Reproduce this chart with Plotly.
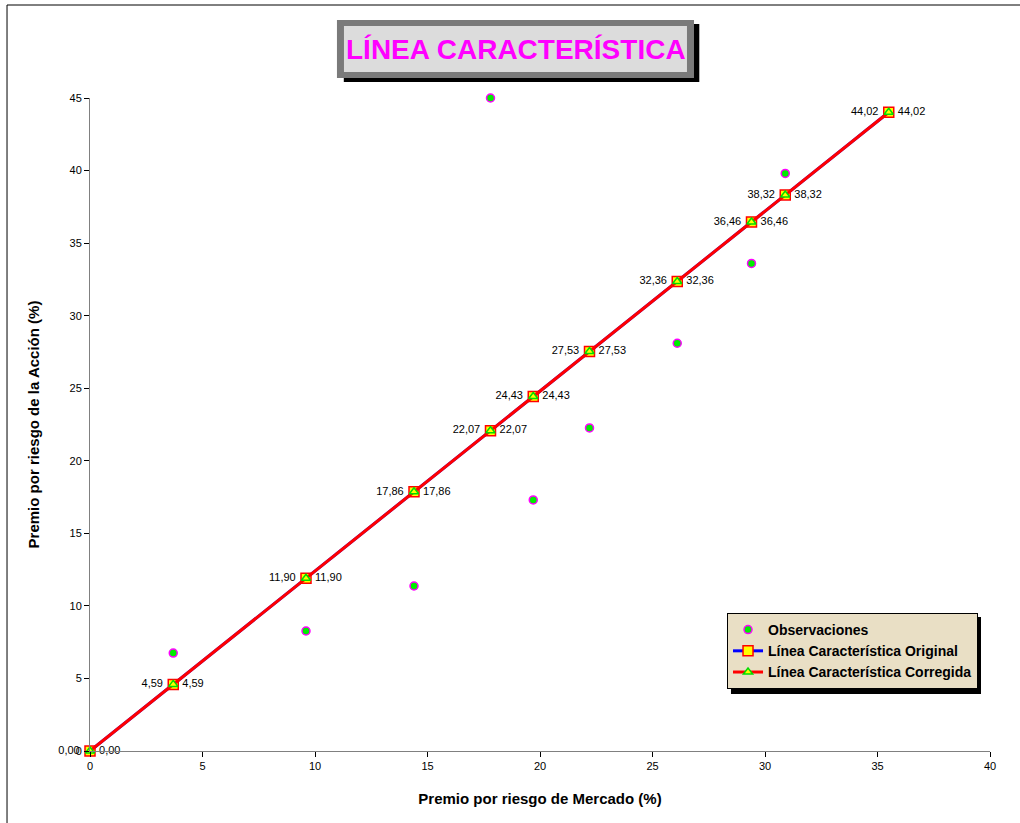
import plotly.graph_objects as go

# Data
mercado = [0.0, 3.7, 9.6, 14.4, 17.8, 19.7, 22.2, 26.1, 29.4, 30.9, 35.5]
linea_original = [0.00, 4.59, 11.90, 17.86, 22.07, 24.43, 27.53, 32.36, 36.46, 38.32, 44.02]
linea_corregida = [0.00, 4.59, 11.90, 17.86, 22.07, 24.43, 27.53, 32.36, 36.46, 38.32, 44.02]
obs_x = [3.7, 9.6, 14.4, 17.8, 19.7, 22.2, 26.1, 29.4, 30.9]
obs_y = [6.75, 8.27, 11.37, 45.0, 17.3, 22.26, 28.1, 33.6, 39.8]

FONT = "Liberation Sans, Arial, sans-serif"

def fmt(v):
    return f"{v:.2f}".replace(".", ",")

fig = go.Figure()

fig.add_trace(go.Scatter(
    x=obs_x, y=obs_y, mode="markers", name="Observaciones",
    marker=dict(symbol="circle", size=8, color="#00ee00", line=dict(color="#ff00ff", width=1.5)),
    cliponaxis=False,
))
fig.add_trace(go.Scatter(
    x=mercado, y=linea_original, mode="lines+markers+text", name="Línea Característica Original",
    line=dict(color="#0000ff", width=3),
    marker=dict(symbol="square", size=10, color="#ffff00", line=dict(color="#ff0000", width=1.5)),
    text=[fmt(v) + " " for v in linea_original], textposition="middle left",
    textfont=dict(family=FONT, size=11, color="#000000"),
    cliponaxis=False,
))
fig.add_trace(go.Scatter(
    x=mercado, y=linea_corregida, mode="lines+markers+text", name="Línea Característica Corregida",
    line=dict(color="#ff0000", width=3),
    marker=dict(symbol="triangle-up", size=8, color="#ffff00", line=dict(color="#00dd00", width=1.5)),
    text=[" " + fmt(v) for v in linea_corregida], textposition="middle right",
    textfont=dict(family=FONT, size=11, color="#000000"),
    cliponaxis=False,
))

shapes = [
    # outer chart border
    dict(type="rect", xref="paper", yref="paper", x0=-0.0922, y0=-0.2, x1=1.2, y1=1.1424,
         line=dict(color="#000000", width=1), fillcolor="rgba(0,0,0,0)", layer="below"),
    # title shadow
    dict(type="rect", xref="paper", yref="paper", x0=0.282, y0=1.0245, x1=0.677, y1=1.1133,
         line=dict(width=0), fillcolor="#000000", layer="below"),
    # title frame
    dict(type="rect", xref="paper", yref="paper", x0=0.2744, y0=1.0306, x1=0.6711, y1=1.1195,
         line=dict(width=0), fillcolor="#7a7a7a", layer="below"),
    # title inner
    dict(type="rect", xref="paper", yref="paper", x0=0.2822, y0=1.0398, x1=0.6633, y1=1.1102,
         line=dict(width=0), fillcolor="#dcdcdc", layer="below"),
    # legend shadow
    dict(type="rect", xref="paper", yref="paper", x0=0.7122, y0=0.0873, x1=0.99, y1=0.2052,
         line=dict(width=0), fillcolor="#000000", layer="below"),
]

fig.update_layout(
    width=1020, height=823,
    margin=dict(l=90, r=30, t=98, b=72),
    paper_bgcolor="#ffffff", plot_bgcolor="#ffffff",
    font=dict(family=FONT, size=11, color="#000000"),
    shapes=shapes,
    showlegend=True,
    legend=dict(
        x=0.7078, y=0.2113, xanchor="left", yanchor="top",
        bgcolor="#e9dfc5", bordercolor="#000000", borderwidth=1,
        font=dict(family=FONT, size=14, color="#000000", weight="bold"),
        itemwidth=30, tracegroupgap=0,
    ),
    annotations=[
        dict(text="<b>LÍNEA CARACTERÍSTICA</b>", xref="paper", yref="paper",
             x=0.4728, y=1.075, xanchor="center", yanchor="middle", showarrow=False,
             font=dict(family=FONT, size=28, color="#ff00ff")),
    ],
    xaxis=dict(
        range=[0, 40], dtick=5, showgrid=False, zeroline=False,
        showline=True, linecolor="#808080", linewidth=1,
        ticks="outside", ticklen=5, tickcolor="#000000",
        tickfont=dict(family=FONT, size=11, color="#000000"),
        title=dict(text="<b>Premio por riesgo de Mercado (%)</b>",
                   font=dict(family=FONT, size=15, color="#000000"), standoff=22),
    ),
    yaxis=dict(
        range=[0, 45], dtick=5, showgrid=False, zeroline=False,
        showline=True, linecolor="#808080", linewidth=1,
        ticks="outside", ticklen=5, tickcolor="#000000",
        tickfont=dict(family=FONT, size=11, color="#000000"),
        title=dict(text="<b>Premio por riesgo de la Acción (%)</b>",
                   font=dict(family=FONT, size=15, color="#000000"), standoff=26),
    ),
)

fig.write_html("out.html")
